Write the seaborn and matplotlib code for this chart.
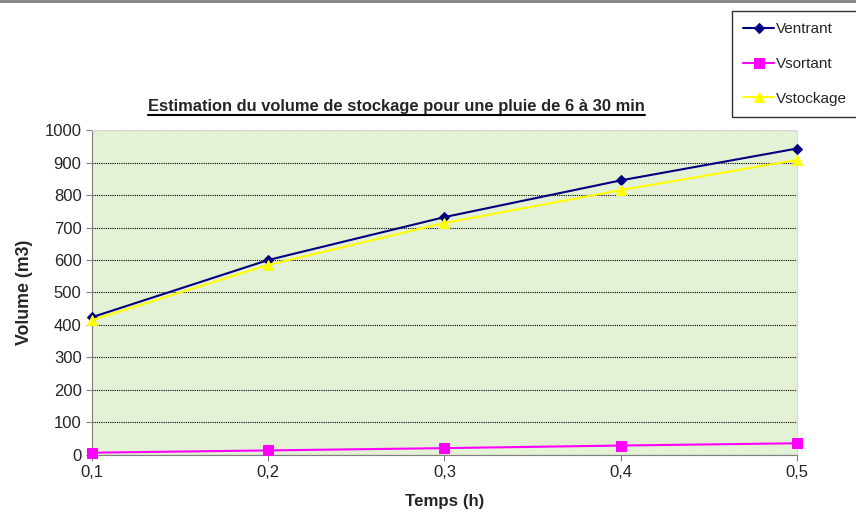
import pandas as pd
import matplotlib.pyplot as plt
import seaborn as sns

# data
temps = [0.1, 0.2, 0.3, 0.4, 0.5]
ventrant = [424, 600, 732, 845, 943]
vsortant = [7, 14, 21, 29, 36]
vstockage = [415, 585, 714, 815, 908]
x_labels = ['0,1', '0,2', '0,3', '0,4', '0,5']

df = pd.DataFrame({'Temps': temps * 3,
                   'Volume': ventrant + vsortant + vstockage,
                   'Serie': ['Ventrant'] * 5 + ['Vsortant'] * 5 + ['Vstockage'] * 5})

sns.set_style("white")
plt.rcParams['font.family'] = ['Liberation Sans', 'DejaVu Sans']

fig = plt.figure(figsize=(8.56, 5.17), dpi=100)
ax = fig.add_axes([0.1075, 0.12, 0.8235, 0.6285])
ax.set_facecolor('#E3F1D5')

palette = {'Ventrant': '#000080', 'Vsortant': '#FF00FF', 'Vstockage': '#FFFF00'}
markers = {'Ventrant': 'D', 'Vsortant': 's', 'Vstockage': '^'}
sizes = {'Ventrant': 5.5, 'Vsortant': 7, 'Vstockage': 7}
for name in ['Ventrant', 'Vsortant', 'Vstockage']:
    sub = df[df['Serie'] == name]
    sns.lineplot(data=sub, x='Temps', y='Volume', ax=ax, color=palette[name],
                 marker=markers[name], markersize=sizes[name], markeredgecolor=palette[name],
                 linewidth=1.5, label=name, zorder=3, clip_on=False)

ax.set_xlim(0.1, 0.5)
ax.set_ylim(0, 1000)
ax.set_xticks(temps)
ax.set_xticklabels(x_labels)
ax.set_yticks(range(0, 1001, 100))
ax.yaxis.grid(True, color='black', linestyle=(0, (1, 1)), linewidth=0.8)
ax.xaxis.grid(False)
ax.tick_params(axis='both', labelsize=12, length=4, direction='out', color='#808080',
               left=True, bottom=True)
for s in ['left', 'bottom']:
    ax.spines[s].set_color('#808080')
for s in ['top', 'right']:
    ax.spines[s].set_color('#D9D9D9')

ax.set_xlabel('Temps (h)', fontsize=12.2, fontweight='bold', labelpad=10)
ax.set_ylabel('Volume (m3)', fontsize=12.8, fontweight='bold', labelpad=8)

fig.text(396 / 856, 1 - 111 / 517, 'Estimation du volume de stockage pour une pluie de 6 à 30 min',
         ha='center', va='baseline', fontsize=11.9, fontweight='bold')
fig.add_artist(plt.Line2D([148 / 856, 645 / 856], [1 - 115.5 / 517, 1 - 115.5 / 517],
                          color='black', linewidth=1.5))

# top border line
fig.add_artist(plt.Line2D([0, 1], [1 - 1 / 517, 1 - 1 / 517], color='#808080', linewidth=2))

leg = ax.legend(loc='upper left', bbox_to_anchor=(732 / 856, 1 - 11 / 517),
                bbox_transform=fig.transFigure, frameon=True, fancybox=False,
                fontsize=11, labelspacing=1.35, handlelength=2.0, borderpad=0.75,
                handletextpad=0.1, borderaxespad=0)
leg.get_frame().set_edgecolor('black')
leg.get_frame().set_linewidth(1)

plt.savefig('out.png', dpi=100)
